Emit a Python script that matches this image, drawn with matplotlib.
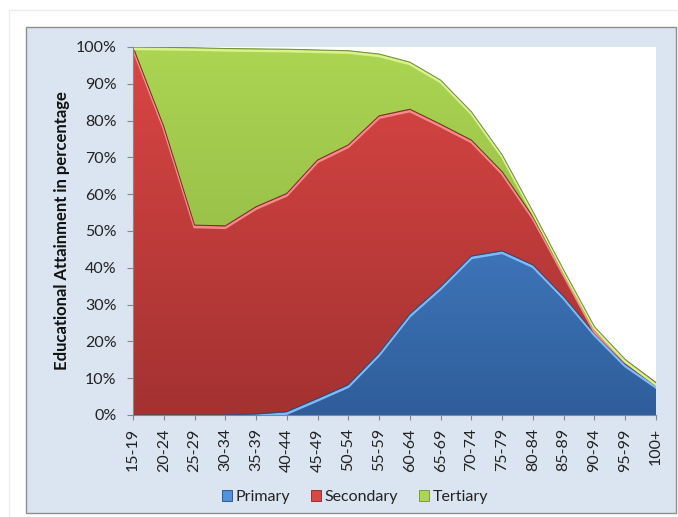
import numpy as np
import matplotlib
matplotlib.use("Agg")
import matplotlib.pyplot as plt
from matplotlib.colors import LinearSegmentedColormap
from matplotlib.patches import Rectangle
from matplotlib.lines import Line2D
from matplotlib.transforms import offset_copy
from matplotlib.ticker import FuncFormatter

plt.rcParams["font.family"] = ["Lato", "DejaVu Sans"]

AGE_GROUPS = ["15-19", "20-24", "25-29", "30-34", "35-39", "40-44", "45-49",
              "50-54", "55-59", "60-64", "65-69", "70-74", "75-79", "80-84",
              "85-89", "90-94", "95-99", "100+"]

# share of each age group by highest level attained (%)
PRIMARY = [0.0, 0.0, 0.0, 0.0, 0.3, 0.9, 4.5, 8.2, 16.8, 27.4, 34.8, 43.2,
           44.6, 40.8, 32.2, 22.2, 13.8, 8.0]
SECONDARY = [100.0, 78.4, 51.6, 51.4, 56.3, 59.3, 64.8, 65.2, 64.5, 55.7,
             44.2, 31.5, 21.5, 13.1, 6.3, 0.9, 1.1, 0.8]
TERTIARY = [0.0, 21.5, 48.2, 48.2, 42.9, 39.2, 29.9, 25.6, 16.8, 12.8,
            12.0, 7.7, 4.6, 1.4, 0.9, 0.9, 0.2, 0.0]

SERIES = ["Primary", "Secondary", "Tertiary"]
# (bottom colour, top colour, highlight, outline)
STYLES = [
    ("#2f5d9a", "#4f92de", "#80baf4", "#27497a"),
    ("#a33231", "#da4644", "#f28c88", "#7e2524"),
    ("#8aae3f", "#abd553", "#d8f28e", "#728f32"),
]

W, H = 678, 517
fig = plt.figure(figsize=(W / 100, H / 100), dpi=100)
fig.patch.set_facecolor("white")


def fx(px):
    return px / W


def fy(py):
    return 1 - py / H


# outer frame and chart area
fig.add_artist(Line2D([fx(9), fx(9)], [fy(10), 0], color="#ececec", lw=1))
fig.add_artist(Line2D([fx(9), 1], [fy(10), fy(10)], color="#ececec", lw=1))
fig.add_artist(Rectangle((fx(26), fy(513)), fx(676) - fx(26), fy(27) - fy(513),
                         facecolor="#dbe5f1", edgecolor="#8e8e8e", lw=1,
                         transform=fig.transFigure, zorder=0))

ax = fig.add_axes([fx(133), fy(415), fx(656) - fx(133), fy(47) - fy(415)])
ax.set_facecolor("white")

x = np.arange(len(AGE_GROUPS))
layers = np.vstack([PRIMARY, SECONDARY, TERTIARY])
tops = np.cumsum(layers, axis=0)
bottoms = np.vstack([np.zeros(len(x)), tops[:-1]])

grad = np.linspace(0, 1, 256).reshape(-1, 1)
for i, name in enumerate(SERIES):
    lo_c, hi_c, hl_c, dk_c = STYLES[i]
    coll = ax.fill_between(x, bottoms[i], tops[i], facecolor=hi_c,
                           edgecolor="none", zorder=2 + i)
    cmap = LinearSegmentedColormap.from_list(name, [lo_c, hi_c])
    im = ax.imshow(grad, cmap=cmap, origin="lower", aspect="auto",
                   extent=[0, len(x) - 1, 0, 100], zorder=2 + i,
                   interpolation="bilinear")
    im.set_clip_path(coll.get_paths()[0], transform=ax.transData)

for i in range(len(SERIES)):
    lo_c, hi_c, hl_c, dk_c = STYLES[i]
    shifted = offset_copy(ax.transData, fig=fig, y=-1.4, units="points")
    ax.plot(x, tops[i], color=hl_c, lw=1.8, transform=shifted,
            zorder=6 + i, solid_joinstyle="round", clip_on=True)
    ax.plot(x, tops[i], color=dk_c, lw=0.7, zorder=7 + i,
            solid_joinstyle="round")

ax.set_xlim(0, len(x) - 1)
ax.set_ylim(0, 100)
ax.set_yticks(np.arange(0, 101, 10))
ax.yaxis.set_major_formatter(FuncFormatter(lambda v, _: f"{v:.0f}%"))
ax.set_xticks(x)
ax.set_xticklabels(AGE_GROUPS, rotation=90)

for side in ["top", "right"]:
    ax.spines[side].set_visible(False)
for side in ["left", "bottom"]:
    ax.spines[side].set_color("#868686")
    ax.spines[side].set_linewidth(0.8)
    ax.spines[side].set_zorder(12)
ax.tick_params(axis="y", length=4, width=0.8, color="#868686", pad=8,
               labelsize=11.5, labelcolor="#222222")
ax.tick_params(axis="x", length=3.5, width=0.8, color="#868686", pad=6,
               labelsize=11.5, labelcolor="#222222")

fig.text(fx(62), fy(231), "Educational Attainment in percentage",
         rotation=90, ha="center", va="center", fontsize=12,
         fontweight="bold", color="#111111")

handles = [Rectangle((0, 0), 1, 1, facecolor=STYLES[i][1],
                     edgecolor=STYLES[i][3], lw=0.6) for i in range(3)]
fig.legend(handles, SERIES, loc="center", bbox_to_anchor=(fx(355), fy(497)),
           ncol=3, frameon=False, fontsize=11.5, handlelength=0.65,
           handleheight=0.65, handletextpad=0.2, columnspacing=1.3,
           labelcolor="#222222")

fig.savefig("out.png", dpi=100)
